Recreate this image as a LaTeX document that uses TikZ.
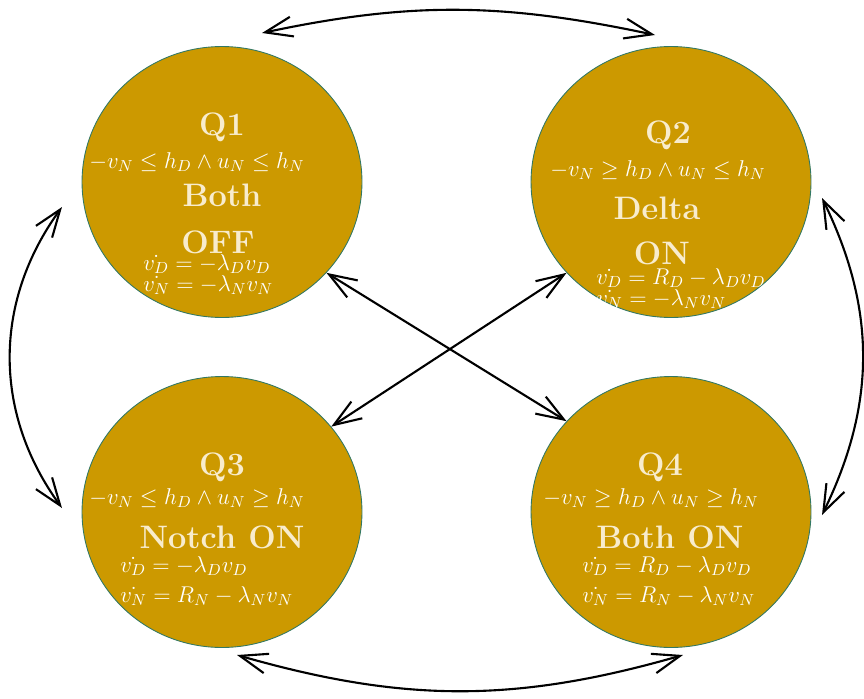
\RequirePackage{fix-cm}
\documentclass[tikz,border=0pt]{standalone}
\usetikzlibrary{shapes.geometric,arrows.meta,calc}
\definecolor{gold}{RGB}{204,153,0}
\definecolor{rim}{RGB}{50,120,100}
\definecolor{cream}{RGB}{248,236,205}
\tikzset{
  state/.style={ellipse,draw=rim,line width=0.5pt,fill=gold,minimum width=5.6cm,minimum height=5.42cm,inner sep=0pt},
  title/.style={text=cream,font=\fontsize{18.5}{20}\selectfont\bfseries,inner sep=0pt},
  cond/.style={text=white,font=\fontsize{13}{15}\selectfont,inner sep=0pt},
  link/.style={<->,>={Straight Barb[length=0.55cm,width=0.4cm]},line width=1.2pt}
}
\begin{document}
\begin{tikzpicture}[x=0.02cm,y=0.02cm]
\useasboundingbox (0,0) rectangle (864,698);

\node[state] (Q1) at (222,516) {};
\node[state] (Q2) at (671,516) {};
\node[state] (Q3) at (222,186) {};
\node[state] (Q4) at (671,186) {};

\node[title] (t1) at (222,571) {Q1};
\node[cond] (c1) at (197,536) {$-v_N \le h_D \wedge u_N \le h_N$};
\node[title] (n1) at (222,503) {Both};
\node[title] (m1) at (218,456) {OFF};
\node[cond,anchor=west] (d1) at (143,434) {$\dot{v_D} = -\lambda_D v_D$};
\node[cond,anchor=west] (e1) at (143,413) {$\dot{v_N} = -\lambda_N v_N$};

\node[title] (t2) at (668,563) {Q2};
\node[cond] (c2) at (658,528) {$-v_N \ge h_D \wedge u_N \le h_N$};
\node[title] (n2) at (657,490) {Delta};
\node[title] (m2) at (662,445) {ON};
\node[cond,anchor=west] (d2) at (596,420) {$\dot{v_D} = R_D - \lambda_D v_D$};
\node[cond,anchor=west] (e2) at (596,399) {$\dot{v_N} = -\lambda_N v_N$};

\node[title] (t3) at (222,231) {Q3};
\node[cond] (c3) at (197,200) {$-v_N \le h_D \wedge u_N \ge h_N$};
\node[title] (n3) at (222,161) {Notch ON};
\node[cond,anchor=west] (d3) at (120,132) {$\dot{v_D} = -\lambda_D v_D$};
\node[cond,anchor=west] (e3) at (120,102) {$\dot{v_N} = R_N - \lambda_N v_N$};

\node[title] (t4) at (660,231) {Q4};
\node[cond] (c4) at (651,200) {$-v_N \ge h_D \wedge u_N \ge h_N$};
\node[title] (n4) at (670,161) {Both ON};
\node[cond,anchor=west] (d4) at (582,132) {$\dot{v_D} = R_D - \lambda_D v_D$};
\node[cond,anchor=west] (e4) at (582,102) {$\dot{v_N} = R_N - \lambda_N v_N$};

\draw[link] ($(Q1)+(40,149)$) to[out=12,in=168] ($(Q2)+(-16,147)$);
\draw[link] ($(Q1)+(-160,-25)$) to[out=234,in=126] ($(Q3)+(-160,4)$);
\draw[link] ($(Q2)+(151,-16)$) to[out=-64,in=64] ($(Q4)+(151,-3)$);
\draw[link] ($(Q3)+(15,-143)$) to[out=-16,in=196] ($(Q4)+(12,-143)$);
\draw[link] (Q1.-41) -- (Q4.139);
\draw[link] (Q2.221) -- (Q3.38);
\end{tikzpicture}
\end{document}
